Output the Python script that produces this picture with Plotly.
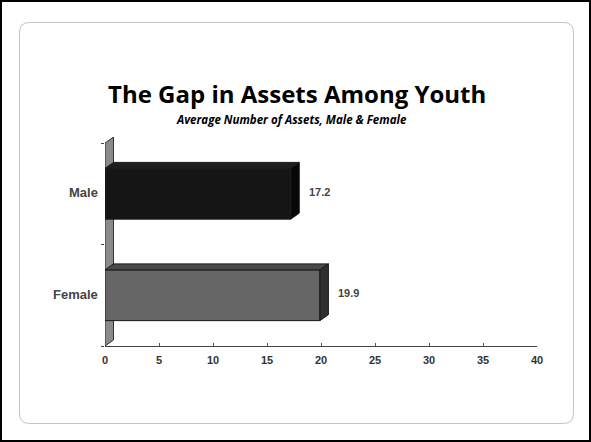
import plotly.graph_objects as go

# --- data ---
categories = ["Female", "Male"]
values = [19.9, 17.2]
value_labels = ["19.9", "17.2"]
x_ticks = [0, 5, 10, 15, 20, 25, 30, 35, 40]

# --- styling ---
front_colors = ["#666666", "#151515"]
top_colors = ["#4a4a4a", "#1e1e1e"]
side_colors = ["#2f2f2f", "#070707"]
edge = "#1a1a1a"

W, H = 591, 442
ML, MR, MT, MB = 105, 54, 137, 96
plot_w = W - ML - MR
plot_h = H - MT - MB

X_RANGE = [0, 40]
DEPTH_PX_X, DEPTH_PX_Y = 8.5, 6.0
y_unit_px = (plot_h - DEPTH_PX_Y) / 2.0          # two category bands
dx = DEPTH_PX_X * (X_RANGE[1] - X_RANGE[0]) / plot_w
dy = DEPTH_PX_Y / y_unit_px
Y_RANGE = [-0.5, 1.5 + dy]
BAR_W = 0.5


def px_x(p):
    return (p - ML) / plot_w


def px_y(p):
    return (H - MB - p) / plot_h


ypos = list(range(len(categories)))

fig = go.Figure()
fig.add_trace(go.Bar(
    x=values, y=ypos, orientation="h", width=BAR_W,
    marker=dict(color=front_colors, line=dict(color=edge, width=1)),
    hoverinfo="skip", showlegend=False,
))

shapes = []
# back wall behind the bars
shapes.append(dict(
    type="path", xref="x", yref="y", layer="below",
    path=(f"M 0 {Y_RANGE[0]} L {dx} {Y_RANGE[0] + dy} L {dx} {1.5 + dy} "
          f"L 0 1.5 Z"),
    fillcolor="#8a8a8a", line=dict(color="#333333", width=1),
))

# top and side faces of each bar
for yi, v, tc, sc in zip(ypos, values, top_colors, side_colors):
    top = yi + BAR_W / 2
    bot = yi - BAR_W / 2
    shapes.append(dict(
        type="path", xref="x", yref="y",
        path=(f"M 0 {top} L {v} {top} L {v + dx} {top + dy} "
              f"L {dx} {top + dy} Z"),
        fillcolor=tc, line=dict(color=edge, width=1),
    ))
    shapes.append(dict(
        type="path", xref="x", yref="y",
        path=(f"M {v} {bot} L {v} {top} L {v + dx} {top + dy} "
              f"L {v + dx} {bot + dy} Z"),
        fillcolor=sc, line=dict(color=edge, width=1),
    ))

# slide frame and rounded content panel
shapes.append(dict(
    type="rect", xref="paper", yref="paper",
    x0=px_x(1), x1=px_x(W - 1), y0=px_y(H - 1), y1=px_y(1),
    line=dict(color="#000000", width=2), fillcolor="rgba(0,0,0,0)",
))
r = 10
L_, R_, T_, B_ = 19.5, 573.5, 22.5, 423.5
pts = [
    ("M", L_ + r, T_), ("L", R_ - r, T_), ("Q", R_, T_, R_, T_ + r),
    ("L", R_, B_ - r), ("Q", R_, B_, R_ - r, B_), ("L", L_ + r, B_),
    ("Q", L_, B_, L_, B_ - r), ("L", L_, T_ + r), ("Q", L_, T_, L_ + r, T_),
]
path = ""
for p in pts:
    cmd, coords = p[0], p[1:]
    conv = []
    for i in range(0, len(coords), 2):
        conv.append(f"{px_x(coords[i]):.5f} {px_y(coords[i + 1]):.5f}")
    path += f"{cmd} " + " ".join(conv) + " "
path += "Z"
shapes.append(dict(
    type="path", xref="paper", yref="paper", path=path,
    line=dict(color="#c4c4c4", width=1), fillcolor="rgba(0,0,0,0)",
))

annotations = []
# category labels
for yi, c in zip(ypos, categories):
    annotations.append(dict(
        x=0, y=yi, xref="x", yref="y", text=c, showarrow=False,
        xanchor="right", xshift=-5, yshift=1,
        font=dict(family="Liberation Sans, Arial", size=13, color="#444444",
                  weight="bold"),
    ))
# value labels
for yi, v, t in zip(ypos, values, value_labels):
    annotations.append(dict(
        x=v + dx, y=yi, xref="x", yref="y", text=t, showarrow=False,
        xanchor="left", xshift=8, yshift=2,
        font=dict(family="Liberation Sans, Arial", size=11, color="#444444",
                  weight="bold"),
    ))
# title and subtitle
annotations.append(dict(
    x=px_x(297), y=px_y(93), xref="paper", yref="paper",
    text="The Gap in Assets Among Youth", showarrow=False,
    xanchor="center", yanchor="middle",
    font=dict(family="Open Sans, sans-serif", size=24, color="#000000",
              weight="bold"),
))
annotations.append(dict(
    x=px_x(291), y=px_y(119), xref="paper", yref="paper",
    text="Average Number of Assets, Male & Female", showarrow=False,
    xanchor="center", yanchor="middle",
    font=dict(family="Open Sans, sans-serif", size=11.5, color="#000000",
              weight="bold", style="italic"),
))

fig.update_layout(
    width=W, height=H,
    margin=dict(l=ML, r=MR, t=MT, b=MB, pad=0),
    paper_bgcolor="white", plot_bgcolor="white",
    bargap=0.5,
    shapes=shapes, annotations=annotations,
    xaxis=dict(
        range=X_RANGE, tickvals=x_ticks, ticks="inside", ticklen=3,
        tickcolor="#555555", showline=True, linecolor="#444444", linewidth=1,
        showgrid=False, zeroline=False, ticklabelstandoff=4,
        tickfont=dict(family="Liberation Sans, Arial", size=11,
                      color="#333333", weight="bold"),
    ),
    yaxis=dict(
        range=Y_RANGE, tickvals=[-0.5, 0.5, 1.5], ticks="outside", ticklen=3,
        tickcolor="#444444", showticklabels=False, showline=False,
        showgrid=False, zeroline=False,
    ),
)

fig.write_html("out.html")
